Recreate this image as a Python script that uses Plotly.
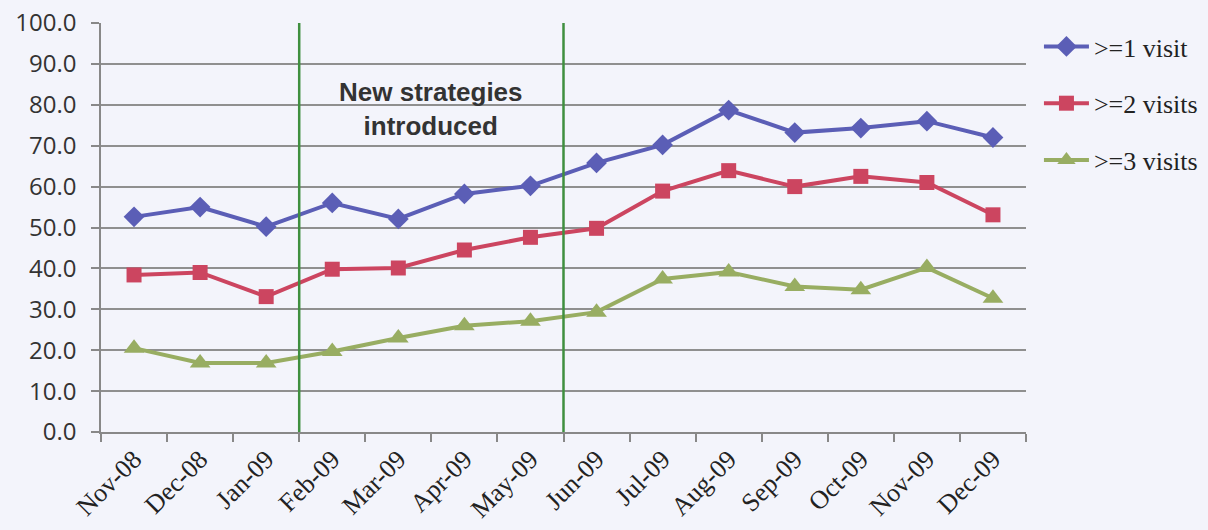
import plotly.graph_objects as go

months = ["Nov-08", "Dec-08", "Jan-09", "Feb-09", "Mar-09", "Apr-09", "May-09",
          "Jun-09", "Jul-09", "Aug-09", "Sep-09", "Oct-09", "Nov-09", "Dec-09"]
visit1 = [52.6, 55.0, 50.2, 56.0, 52.1, 58.2, 60.2, 65.8, 70.2, 78.7, 73.2, 74.3, 76.0, 72.0]
visit2 = [38.4, 39.0, 33.1, 39.8, 40.1, 44.5, 47.6, 49.8, 58.9, 63.9, 60.0, 62.5, 61.0, 53.1]
visit3 = [20.5, 16.9, 16.9, 19.7, 23.0, 26.0, 27.1, 29.3, 37.4, 39.1, 35.6, 34.8, 40.2, 32.7]

series_names = [">=1 visit", ">=2 visits", ">=3 visits"]
series_vals = [visit1, visit2, visit3]
colors = ["#5b5eb6", "#cc4560", "#98ad62"]
symbols = ["diamond", "square", "triangle-up"]
msizes = [16, 15, 18]

# strategy period boundaries (between Jan-09/Feb-09 and May-09/Jun-09)
boundaries = [2.5, 6.5]
annotation_text = "<b>New strategies</b><br><b>introduced</b>"

fig = go.Figure()
for i, (name, vals) in enumerate(zip(series_names, series_vals)):
    fig.add_trace(go.Scatter(
        x=months, y=vals, name=name, mode="lines+markers",
        line=dict(color=colors[i], width=4),
        marker=dict(symbol=symbols[i], size=msizes[i], color=colors[i]),
        legendgroup=f"g{i}",
    ))

for b in boundaries:
    fig.add_shape(type="line", xref="x", yref="y", x0=b, x1=b, y0=0, y1=100.5,
                  line=dict(color="#3f8f3f", width=2.5), layer="above")

fig.add_annotation(x=4.5, y=79, xref="x", yref="y", text=annotation_text,
                   showarrow=False, align="center", yanchor="middle",
                   font=dict(family="Liberation Sans", size=26, color="#333333"))

bg = "#f3f4fb"
fig.update_layout(
    width=1208, height=530,
    margin=dict(l=101, r=182, t=23, b=98, autoexpand=False),
    paper_bgcolor=bg, plot_bgcolor=bg,
    showlegend=True,
    legend=dict(x=1.014, y=1.0, xanchor="left", yanchor="top",
                font=dict(family="Liberation Serif", size=26, color="#222222"),
                tracegroupgap=20, traceorder="grouped",
                bgcolor="rgba(0,0,0,0)", itemwidth=45),
)

fig.update_xaxes(
    type="category", range=[-0.5, 13.5], tickson="boundaries",
    ticks="outside", ticklen=8, tickcolor="#888888", tickwidth=1.5,
    showline=True, linecolor="#888888", linewidth=1.5,
    showgrid=False, tickangle=-45, automargin=False,
    tickfont=dict(family="Liberation Serif", size=26, color="#222222"),
)
fig.update_yaxes(
    range=[0, 100], tickvals=[0, 10, 20, 30, 40, 50, 60, 70, 80, 90, 100],
    tickformat=".1f", automargin=False,
    ticks="outside", ticklen=8, tickcolor="#888888", tickwidth=1.5,
    showline=True, linecolor="#888888", linewidth=1.5,
    showgrid=True, gridcolor="#8f8f8f", gridwidth=1.5,
    zeroline=False, ticklabelstandoff=10,
    tickfont=dict(family="Open Sans", size=24, color="#333333"),
)

fig.write_html("out.html")
